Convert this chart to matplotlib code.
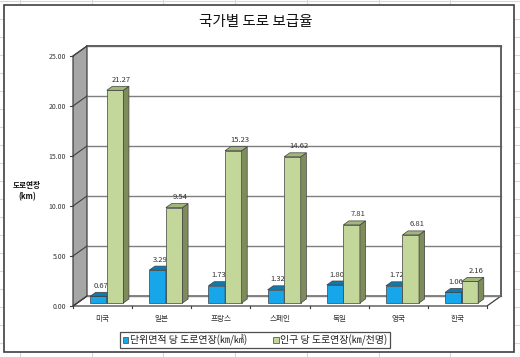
import matplotlib
matplotlib.use('Agg')
import matplotlib.pyplot as plt
from matplotlib.patches import Polygon, Rectangle
import numpy as np

plt.rcParams['font.family'] = ['Noto Sans CJK KR', 'DejaVu Sans']

# ---- data ----
categories = ['미국', '일본', '프랑스', '스페인', '독일', '영국', '한국']
area_vals = [0.67, 3.29, 1.73, 1.32, 1.80, 1.72, 1.06]
pop_vals = [21.27, 9.54, 15.23, 14.62, 7.81, 6.81, 2.16]
series_names = ['단위면적 당 도로연장(㎞/㎢)', '인구 당 도로연장(㎞/천명)']
yticks = [0, 5, 10, 15, 20, 25]
ytick_labels = ['0.00', '5.00', '10.00', '15.00', '20.00', '25.00']
title = '국가별 도로 보급율'
ylabel = '도로연장\n(km)'

W, H = 520, 357
fig = plt.figure(figsize=(W / 100, H / 100), dpi=100)
fig.patch.set_facecolor('white')

# background (spreadsheet + chart area)
bg = fig.add_axes([0, 0, 1, 1])
bg.set_xlim(0, W)
bg.set_ylim(H, 0)
bg.axis('off')
for gx in np.arange(20, W, 71.7):
    bg.plot([gx, gx], [0, H], color='#D4D8E0', lw=0.8)
for gy in np.arange(1, H, 18):
    bg.plot([0, W], [gy, gy], color='#D4D8E0', lw=0.8)
bg.add_patch(Rectangle((3.5, 4.5), 510, 347.5, facecolor='white',
                       edgecolor='#404040', lw=1.2, zorder=2))
bg.text(256, 22, title, ha='center', va='center', fontsize=10.5,
        color='#111111', zorder=3)
bg.text(27, 191, ylabel, ha='center', va='center', fontsize=5.5,
        fontweight='bold', color='#111111', linespacing=1.3, zorder=3)

# main axes (front plane)
ax_l, ax_b, ax_w, ax_h = 73 / W, (H - 306) / H, 414 / W, 250 / H
ax = fig.add_axes([ax_l, ax_b, ax_w, ax_h])
n = len(categories)
ax.set_xlim(-0.5, n - 0.5)
ax.set_ylim(0, 25)
ax.axis('off')
ax.patch.set_alpha(0)

ppx = ax_w * W / n      # pixels per category unit
ppy = ax_h * H / 25     # pixels per value unit
DX, DY = 14 / ppx, 10 / ppy          # wall depth
FDX, FDY = 4.2 / ppx, 3 / ppy        # bar front plane
BDX, BDY = 5.6 / ppx, 4 / ppy        # bar depth

edge = '#404040'
x0, x1 = -0.5, n - 0.5

# floor
ax.add_patch(Polygon([(x0, 0), (x1, 0), (x1 + DX, DY), (x0 + DX, DY)],
                     closed=True, facecolor='white', edgecolor=edge, lw=0.9,
                     clip_on=False, zorder=1))
# left wall
ax.add_patch(Polygon([(x0, 0), (x0, 25), (x0 + DX, 25 + DY), (x0 + DX, DY)],
                     closed=True, facecolor='#A6A6A6', edgecolor=edge, lw=0.9,
                     clip_on=False, zorder=1))
# back wall gridlines and edges
for v, lab in zip(yticks, ytick_labels):
    ax.plot([x0 + DX, x1 + DX], [v + DY, v + DY], color='#7F7F7F', lw=1.0,
            clip_on=False, zorder=1.2)
    ax.plot([x0, x0 + DX], [v, v + DY], color=edge, lw=0.8, clip_on=False,
            zorder=1.3)
    ax.plot([x0 - 3 / ppx, x0], [v, v], color=edge, lw=0.8, clip_on=False,
            zorder=1.3)
    ax.annotate(lab, xy=(x0, v), xytext=(-5, -1),
                textcoords='offset points', ha='right', va='center',
                fontsize=5, color='#333333', annotation_clip=False)
ax.plot([x1 + DX, x1 + DX], [DY, 25 + DY], color='#606060', lw=1.4,
        clip_on=False, zorder=1.2)
ax.plot([x0 + DX, x1 + DX], [25 + DY, 25 + DY], color='#606060', lw=1.4,
        clip_on=False, zorder=1.2)

# front edge ticks
for b in np.arange(x0, x1 + 0.01, 1.0):
    ax.plot([b, b], [0, -2 / ppy], color=edge, lw=0.8, clip_on=False)

# category labels
xs = np.arange(n)
for i, c in enumerate(categories):
    ax.annotate(c, xy=(xs[i], 0), xytext=(0, -9), textcoords='offset points',
                ha='center', va='center', fontsize=5.5, color='#333333',
                annotation_clip=False)

bw = 0.28
series = [
    (area_vals, -bw / 2, ('#17A6EA', '#0F7AB0', '#0B6A9A'), (1.5, 7.5), 3),
    (pop_vals, bw / 2, ('#C4D79B', '#A3B679', '#7E8C5C'), (4.5, 7.5), 5),
]
for vals, off, (cf, ct, cs), (lx, ly), z in series:
    left = xs + off - bw / 2 + FDX
    ax.bar(xs + off + FDX, vals, width=bw, bottom=FDY, color=cf,
           edgecolor=edge, linewidth=0.5, zorder=z, clip_on=False)
    for i, v in enumerate(vals):
        l, r = left[i], left[i] + bw
        top = FDY + v
        ax.add_patch(Polygon([(r, FDY), (r, top), (r + BDX, top + BDY),
                              (r + BDX, FDY + BDY)], closed=True,
                             facecolor=cs, edgecolor=edge, lw=0.5,
                             zorder=z, clip_on=False))
        ax.add_patch(Polygon([(l, top), (r, top), (r + BDX, top + BDY),
                              (l + BDX, top + BDY)], closed=True,
                             facecolor=ct, edgecolor=edge, lw=0.5,
                             zorder=z, clip_on=False))
        ax.annotate(f'{v:.2f}', xy=(xs[i] + off + FDX, top), xytext=(lx, ly),
                    textcoords='offset points', ha='center', va='center',
                    fontsize=5.5, color='#333333', zorder=z - 0.5,
                    annotation_clip=False)

# legend
handles = [Rectangle((0, 0), 1, 1, facecolor=c, edgecolor=edge, lw=0.5)
           for c in ('#17A6EA', '#C4D79B')]
leg = fig.legend(handles, series_names, loc='center',
                 bbox_to_anchor=(255 / W, 1 - 340 / H), ncol=2,
                 fontsize=7.2, frameon=True, fancybox=False,
                 handlelength=0.55, handleheight=0.55, handletextpad=0.15,
                 columnspacing=2.6, borderpad=0.25, borderaxespad=0)
leg.get_frame().set_edgecolor('#222222')
leg.get_frame().set_linewidth(0.9)
for t in leg.get_texts():
    t.set_color('#222222')

fig.savefig('out.png', dpi=100, facecolor='white')
